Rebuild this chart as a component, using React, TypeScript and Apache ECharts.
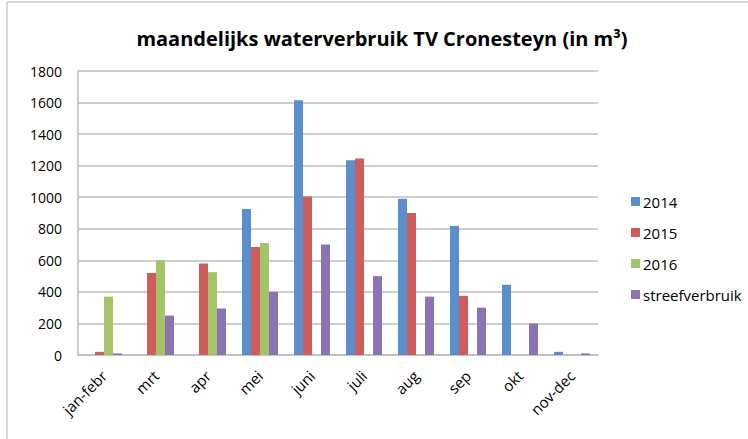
import React, { useEffect, useRef } from "react";
import * as echarts from "echarts";

const categories = ["jan-febr", "mrt", "apr", "mei", "juni", "juli", "aug", "sep", "okt", "nov-dec"];
const s2014 = [null, null, null, 925, 1615, 1235, 990, 817, 445, 20];
const s2015 = [20, 520, 580, 685, 1005, 1245, 900, 375, null, null];
const s2016 = [370, 600, 525, 710, null, null, null, null, null, null];
const streef = [10, 250, 295, 400, 700, 500, 370, 300, 200, 10];
const seriesNames = ["2014", "2015", "2016", "streefverbruik"];
const colors = ["#5A8ECC", "#CD5D5A", "#A3C567", "#8C73B3"];

export default function App() {
  const ref = useRef<HTMLDivElement>(null);
  useEffect(() => {
    document.body.style.margin = "0";
    const chart = echarts.init(ref.current!, null, { renderer: "svg" });
    const font = "'Open Sans', 'Liberation Sans', sans-serif";
    const data = [s2014, s2015, s2016, streef];
    chart.setOption({
      animation: false,
      backgroundColor: "#ffffff",
      title: {
        text: "maandelijks waterverbruik TV Cronesteyn (in m³)",
        left: 377,
        textAlign: "center",
        top: 23,
        textStyle: { fontFamily: font, fontSize: 20, fontWeight: "bold", color: "#000" },
      },
      legend: {
        orient: "vertical",
        left: 626,
        top: 189,
        itemWidth: 9,
        itemHeight: 9,
        itemGap: 16,
        icon: "rect",
        textStyle: { fontFamily: font, fontSize: 15, color: "#000", padding: [0, 0, 0, -2] },
        data: seriesNames,
      },
      grid: { left: 78, right: 150, top: 71, bottom: 84, containLabel: false },
      xAxis: {
        type: "category",
        data: categories,
        axisLine: { lineStyle: { color: "#bdbdbd", width: 1.5 } },
        axisTick: { show: false },
        axisLabel: {
          rotate: 45,
          interval: 0,
          fontFamily: font,
          fontSize: 15,
          color: "#000",
          margin: 18,
        },
      },
      yAxis: {
        type: "value",
        min: 0,
        max: 1800,
        interval: 200,
        axisLine: { show: true, lineStyle: { color: "#bdbdbd", width: 1.5 } },
        axisTick: { show: false },
        splitLine: { lineStyle: { color: "#bdbdbd", width: 1.5 } },
        axisLabel: {
          fontFamily: font,
          fontSize: 14,
          color: "#000",
          margin: 16,
          formatter: (v: number) => String(v),
        },
      },
      graphic: [
        { type: "line", shape: { x1: 7, y1: 2, x2: 748, y2: 2 }, style: { stroke: "#b0b0b0", lineWidth: 1 } },
        { type: "line", shape: { x1: 7, y1: 2, x2: 7, y2: 439 }, style: { stroke: "#b0b0b0", lineWidth: 1 } },
      ],
      series: seriesNames.map((n, i) => ({
        name: n,
        type: "bar",
        data: data[i],
        barWidth: 9,
        barGap: "0%",
        itemStyle: { color: colors[i] },
      })),
    });
    return () => chart.dispose();
  }, []);
  return <div ref={ref} style={{ width: 748, height: 439 }} />;
}
